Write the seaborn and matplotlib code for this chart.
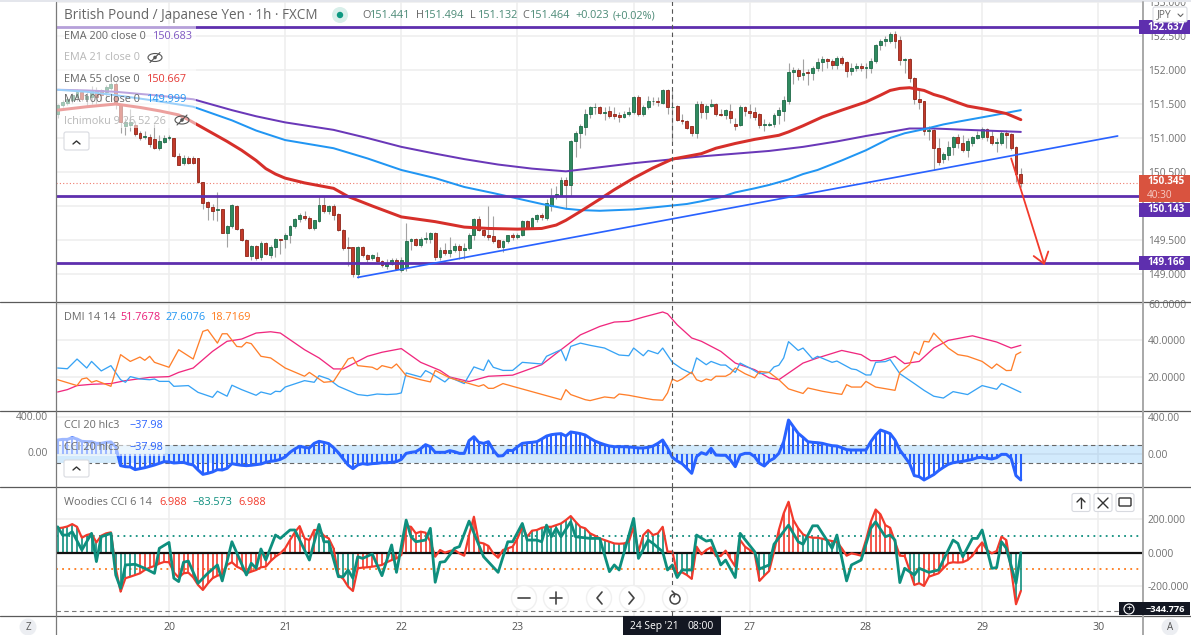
import numpy as np
import seaborn as sns
import matplotlib
matplotlib.use("Agg")
import matplotlib.pyplot as plt
from matplotlib.patches import Rectangle, FancyBboxPatch, Circle, Ellipse

# candles, one per hour, bar -23 .. 176 (bar 0 = 20 Sep 00:00, weekend removed)
candle_open = [
    151.36,151.49,151.51,151.56,151.6,151.68,151.58,151.6,151.71,151.7,
    151.68,151.74,151.8,151.48,151.18,151.19,151.19,151.08,151.01,151.02,
    150.98,150.85,150.94,151.0,151.0,150.74,150.63,150.71,150.7,150.7,
    150.35,150.06,149.99,149.94,149.95,149.6,149.7,150.0,149.66,149.5,
    149.26,149.41,149.25,149.46,149.28,149.39,149.51,149.51,149.57,149.7,
    149.81,149.86,149.83,149.67,149.78,150.02,149.92,150.0,149.88,149.65,
    149.39,149.39,149.0,149.39,149.28,149.24,149.25,149.19,149.12,149.15,
    149.21,149.06,149.1,149.48,149.51,149.43,149.52,149.51,149.6,149.25,
    149.36,149.31,149.35,149.41,149.35,149.38,149.57,149.81,149.65,149.58,
    149.56,149.5,149.4,149.49,149.57,149.55,149.58,149.78,149.68,149.81,
    149.87,149.83,150.0,150.14,150.16,150.38,150.31,150.96,151.07,151.16,
    151.35,151.45,151.45,151.37,151.4,151.36,151.34,151.31,151.36,151.39,
    151.61,151.35,151.46,151.54,151.55,151.52,151.7,151.45,151.47,151.27,
    151.25,151.17,151.08,151.5,151.38,151.47,151.5,151.36,151.34,151.4,
    151.21,151.19,151.45,151.4,151.38,151.35,151.19,151.19,151.2,151.34,
    151.4,151.55,151.97,152.0,151.92,151.97,151.95,152.03,152.12,152.16,
    152.13,152.07,152.18,152.12,151.99,152.03,152.06,152.03,152.03,152.13,
    152.37,152.43,152.43,152.53,152.44,152.15,152.16,151.88,151.58,151.54,
    151.11,151.12,150.86,150.69,150.75,150.87,151.02,150.92,150.82,150.93,
    151.0,151.02,151.13,151.03,150.93,150.93,151.08,151.06,150.87,150.47]
candle_high = [
    151.5,151.56,151.6,151.66,151.72,151.7,151.68,151.76,151.75,151.72,
    151.78,151.83,151.83,151.5,151.3,151.42,151.25,151.1,151.1,151.06,
    151.2,151.05,151.05,151.05,151.0,150.78,150.75,150.73,150.73,150.71,
    150.36,150.08,150.03,150.2,149.96,149.72,150.03,150.02,149.67,149.52,
    149.42,149.43,149.48,149.47,149.42,149.53,149.52,149.6,149.72,149.82,
    149.89,149.92,149.85,149.8,150.13,150.13,150.02,150.03,149.89,149.66,
    149.55,149.4,149.41,149.41,149.3,149.3,149.33,149.2,149.22,149.23,
    149.23,149.25,149.75,149.53,149.53,149.54,149.62,149.62,149.62,149.4,
    149.45,149.55,149.45,149.44,149.45,149.6,149.83,149.85,149.66,150.0,
    149.85,149.52,149.5,149.58,149.6,149.6,149.8,149.8,149.84,149.88,
    149.9,150.1,150.26,150.29,150.42,150.42,150.97,151.1,151.2,151.42,
    151.47,151.52,151.47,151.45,151.47,151.45,151.38,151.4,151.46,151.62,
    151.63,151.48,151.62,151.6,151.6,151.72,151.72,151.7,151.48,151.35,
    151.27,151.18,151.55,151.54,151.5,151.58,151.52,151.42,151.43,151.5,
    151.3,151.48,151.47,151.5,151.45,151.37,151.28,151.24,151.37,151.45,
    151.62,152.1,152.05,152.03,152.16,152.02,152.06,152.18,152.2,152.18,
    152.16,152.2,152.2,152.13,152.1,152.1,152.1,152.1,152.17,152.38,
    152.46,152.5,152.56,152.57,152.5,152.18,152.17,151.9,151.72,151.55,
    151.18,151.14,151.0,150.8,150.95,151.03,151.06,151.05,151.0,151.03,
    151.1,151.16,151.15,151.12,151.0,151.1,151.12,151.08,150.88,150.56]
candle_low = [
    151.3,151.46,151.48,151.52,151.55,151.55,151.45,151.5,151.5,151.55,
    151.6,151.7,151.42,151.07,151.05,151.1,151.03,150.97,150.98,150.87,
    150.84,150.82,150.93,150.97,150.72,150.6,150.6,150.62,150.62,150.34,
    149.95,149.8,149.8,149.78,149.6,149.4,149.68,149.65,149.48,149.26,
    149.2,149.2,149.2,149.28,149.23,149.25,149.3,149.38,149.46,149.68,
    149.77,149.8,149.66,149.65,149.76,149.9,149.88,149.8,149.63,149.36,
    149.12,148.96,148.94,149.25,149.17,149.2,149.17,149.1,149.08,149.13,
    149.06,149.03,149.05,149.35,149.41,149.4,149.45,149.46,149.2,149.2,
    149.28,149.25,149.32,149.22,149.22,149.36,149.5,149.63,149.55,149.5,
    149.45,149.38,149.33,149.45,149.5,149.52,149.56,149.66,149.66,149.77,
    149.8,149.8,149.93,150.1,150.14,149.96,150.15,150.72,150.85,151.05,
    151.3,151.36,151.35,151.27,151.3,151.28,151.23,151.29,151.33,151.35,
    151.33,151.33,151.42,151.48,151.47,151.5,151.35,150.95,151.25,151.2,
    151.13,151.03,151.0,151.3,151.28,151.45,151.33,151.32,151.28,151.22,
    151.12,151.17,151.33,151.3,151.27,151.15,151.1,151.17,151.16,151.2,
    151.25,151.5,151.8,151.85,151.85,151.78,151.85,151.98,151.98,152.03,
    152.02,152.02,152.07,151.9,151.92,151.98,151.98,151.88,151.95,152.1,
    152.3,152.35,152.4,152.33,152.08,151.95,151.83,151.5,151.43,151.04,
    150.97,150.53,150.6,150.63,150.68,150.75,150.85,150.8,150.72,150.88,
    150.98,150.98,150.95,150.9,150.8,150.9,150.85,150.83,150.35,150.28]
candle_close = [
    151.49,151.53,151.58,151.63,151.68,151.58,151.62,151.7,151.6,151.63,
    151.75,151.8,151.5,151.24,151.24,151.24,151.06,151.0,151.03,150.91,
    150.85,150.95,151.0,151.01,150.73,150.61,150.71,150.64,150.64,150.35,
    150.05,149.99,149.93,149.95,149.6,149.7,150.02,149.66,149.5,149.27,
    149.41,149.24,149.46,149.29,149.4,149.51,149.5,149.58,149.71,149.81,
    149.87,149.82,149.68,149.79,150.02,149.92,150.0,149.87,149.64,149.38,
    149.38,149.0,149.39,149.28,149.22,149.28,149.19,149.13,149.15,149.21,
    149.07,149.2,149.48,149.51,149.43,149.52,149.53,149.6,149.25,149.36,
    149.31,149.36,149.41,149.36,149.38,149.57,149.81,149.65,149.58,149.55,
    149.49,149.4,149.49,149.57,149.55,149.58,149.78,149.68,149.82,149.87,
    149.84,150.05,150.15,150.17,150.38,150.31,150.95,151.08,151.17,151.36,
    151.45,151.46,151.37,151.39,151.33,151.33,151.31,151.36,151.39,151.61,
    151.35,151.46,151.54,151.55,151.53,151.7,151.45,151.46,151.26,151.25,
    151.15,151.08,151.5,151.38,151.47,151.5,151.35,151.34,151.41,151.3,
    151.18,151.46,151.4,151.37,151.31,151.19,151.2,151.2,151.34,151.41,
    151.56,151.97,152.0,151.91,151.96,151.95,152.03,152.12,152.16,152.13,
    152.07,152.17,152.11,151.99,152.03,152.06,152.03,152.05,152.14,152.37,
    152.43,152.45,152.53,152.43,152.15,152.16,151.88,151.58,151.53,151.11,
    151.12,150.86,150.65,150.76,150.87,151.02,150.92,150.83,150.95,151.01,
    151.04,151.13,151.02,150.92,150.94,151.08,151.05,150.86,150.47,150.345]

# moving averages
ema200_bar = [-23,-17,-11,-3,5,9,13,18,24,29,34,41,48,55,61,68,75,82,89,96,103,110,117,124,131,138,144,149,153,158,165,176]
ema200_val = [151.71,151.7,151.68,151.63,151.57,151.49,151.41,151.32,151.23,151.175,151.12,151.0,150.87,150.77,150.69,150.61,150.55,150.51,150.57,150.63,150.68,150.73,150.77,150.81,150.87,150.95,151.03,151.09,151.14,151.14,151.12,151.09]
ma100_bar = [-23,-17,-11,-3,5,9,13,18,24,29,34,41,48,55,61,67,72,77,82,85,89,96,103,107,110,114,117,121,124,128,131,134,139,144,149,152,156,160,163,170,176]
ma100_val = [151.71,151.68,151.63,151.55,151.46,151.36,151.26,151.11,150.97,150.91,150.85,150.7,150.53,150.41,150.28,150.19,150.11,150.03,149.96,149.94,149.93,149.95,150.0,150.03,150.07,150.13,150.2,150.26,150.31,150.39,150.47,150.53,150.67,150.82,151.0,151.07,151.13,151.2,151.24,151.33,151.41]
ema55_bar = [-23,-17,-11,-6,-2,2,4,6,9,12,15,18,20,22,24,28,34,37,42,48,52,55,58,61,66,72,77,80,82,85,89,92,96,100,104,107,110,113,117,121,126,128,131,135,139,144,147,149,151,153,156,158,160,163,165,169,173,175,176]
ema55_val = [151.41,151.46,151.5,151.45,151.4,151.34,151.27,151.19,151.07,150.95,150.82,150.67,150.55,150.47,150.41,150.34,150.26,150.14,150.0,149.84,149.8,149.77,149.73,149.69,149.67,149.66,149.67,149.72,149.79,149.92,150.1,150.24,150.41,150.56,150.69,150.73,150.77,150.85,150.92,150.98,151.04,151.09,151.18,151.31,151.41,151.53,151.63,151.7,151.73,151.74,151.7,151.64,151.6,151.52,151.47,151.42,151.36,151.3,151.27]

trend_bar = [39, 196]
trend_val = [148.95, 151.03]
levels = [152.637, 150.143, 149.166]
last_price = 150.345
arrow_bar = [174, 180.9]
arrow_val = [150.7, 149.13]

# DMI
adx_bar = [-23,-21,-19,-16,-12,-9,-4,0,2,5,9,12,15,18,21,23,28,31,34,36,41,44,48,52,56,58,62,66,71,77,81,85,89,92,95,98,102,103,105,108,110,114,117,121,124,126,131,134,139,143,145,147,150,152,155,158,161,166,171,174,176]
adx_val = [11.8,13.1,15.3,16,16.4,18,19.8,20.2,22.5,24.9,34,39.5,40.7,44,44.7,44,34.9,30.4,24.4,24.4,31.3,33.5,35.5,28,23.6,20,17.5,20.4,21,26.7,34.9,43,47.6,50,50.4,52.7,55.5,54.5,48.5,41.3,39.5,34,27.6,24,19.5,18.5,27.6,30.4,34.5,32.2,28.9,28.9,31.3,27.3,28.5,35.8,40,42.5,39.1,35.8,37.3]
dip_bar = [-23,-21,-19,-17,-16,-14,-12,-10,-9,-8,-6,-4,-3,-2,0,1,4,6,9,10,12,13,15,18,19,21,22,23,24,28,30,31,33,35,39,41,43,45,47,48,49,52,53,54,57,58,61,63,65,66,67,69,71,73,77,78,81,82,83,85,87,90,91,93,95,96,98,99,101,102,104,106,108,109,111,112,114,115,117,118,120,122,124,125,126,127,128,130,131,133,134,137,138,141,142,144,145,146,148,149,151,154,156,158,160,162,165,168,171,172,173,176]
dip_val = [24.9,24.5,29.8,24.9,28.5,23.3,26.2,18.5,17.1,20.2,18.9,18.5,18.9,17.6,17.6,14.9,15.3,11.6,8.9,12.2,9.5,15.5,13.1,10,11.8,10.5,12.2,12,14.5,18,17.1,20.7,18.9,14.9,10.4,9.8,10.7,10.4,10.7,11.3,22.2,20,23.5,22.2,17.3,19.8,16.4,25.5,23.6,29.3,25.3,23.6,23.6,28,27.1,31.3,34.9,28.9,36.7,38.5,37.3,35.8,34.5,32,31.6,35.8,31.6,34.5,32.7,35.8,28,24.4,21.8,30.4,26.7,28.5,26.5,26.5,22.5,27.6,24.9,21.8,22.5,25.5,26.4,30.4,39.3,34.5,35.8,29.8,31.3,28,28.7,24.4,24,21.1,21.1,28,28.4,29.5,21.8,16.4,12.7,9.5,8.5,12,10.4,15.3,13.3,16.4,15.3,11.6]
dim_bar = [-23,-19,-18,-17,-16,-15,-12,-10,-8,-6,-5,-4,-3,0,2,5,7,8,10,11,12,14,15,16,17,19,21,24,28,29,32,34,37,38,39,42,43,44,46,47,48,49,52,54,55,58,64,65,66,67,69,71,81,82,83,86,87,90,92,93,95,98,100,102,103,104,105,106,108,109,110,111,112,113,115,116,117,119,121,122,124,126,128,131,132,135,137,139,140,141,143,144,146,150,151,153,154,155,156,157,158,161,163,165,168,170,171,173,174,175,176]
dim_val = [18.5,15.3,18.9,19.5,17.1,18,14.9,32.2,28.5,30.9,29.1,31.3,28,25.3,34.9,29.8,44.9,45.8,38.5,43.6,43.6,36.7,36.4,38.9,38.2,31.3,30.4,24.9,20.4,22.5,17.1,17.6,29.8,30.7,26.2,25.3,24,26.2,24.9,27.1,24,20.7,18.5,17.3,23.6,19.5,14.9,15.8,13.8,13.8,16.4,14.9,7.6,13.1,10.4,7.6,7.1,9.1,8.5,10.7,10,8.5,7.6,7.3,11.3,18.9,17.6,18.9,22.7,18.5,17.5,18.9,18.2,20.4,20.4,21.8,24.9,21.8,19.5,23.1,22.5,18.5,13.5,11,14,12.2,11.3,10.5,15.8,14.5,14.5,17.6,14.5,12.7,22.5,26.7,33.8,32.2,39.5,39.1,44,35.8,32.2,31.3,28.5,24.7,27.1,23.5,23.6,32.2,33.6]

# CCI 20, one per bar
cci_val = [
    151,158,158,176,162,137,133,133,115,115,
    126,130,79,-126,-137,-140,-169,-158,-148,-133,
    -119,-101,-83,-86,-97,-94,-90,-108,-119,-173,
    -220,-209,-194,-169,-173,-155,-104,-115,-122,-126,
    -122,-115,-108,-90,-79,-72,-58,-32,18,54,
    83,72,65,115,137,126,112,68,14,-54,
    -119,-158,-119,-104,-112,-104,-101,-94,-94,-90,
    -83,-58,7,18,25,58,101,79,18,18,
    18,36,25,7,7,144,187,126,115,133,
    43,-22,-18,40,36,79,115,122,126,133,
    162,194,209,216,220,194,238,230,220,205,
    170,140,119,101,86,79,79,79,76,72,
    65,65,72,86,115,151,65,-36,-76,-104,
    -155,-209,-29,14,-4,61,-11,-14,-14,-65,
    -137,-11,7,7,-29,-101,-130,-76,-47,7,
    133,367,295,223,180,133,126,122,115,101,
    90,86,68,47,43,43,43,43,133,205,
    259,241,220,151,43,-29,-101,-234,-245,-281,
    -252,-223,-180,-144,-112,-94,-86,-79,-68,-58,
    -40,-36,-47,-54,-40,-4,-4,-47,-234,-281]

# Woodies CCI, one per bar, and the turbo line read at its bends
wcci_val = [
    145,149,156,170,154,89,105,113,61,101,
    115,121,-93,-232,-152,-143,-133,-123,-103,-89,
    -79,-65,-55,-57,-117,-148,-123,-119,-147,-192,
    -222,-184,-152,-137,-129,-73,-57,-83,-97,-123,
    -113,-103,-87,-83,-50,-24,-4,26,75,121,
    158,85,75,135,135,101,85,26,-133,-156,
    -202,-228,-93,-89,-87,-83,-79,-73,-57,-44,
    -34,-14,158,154,115,125,119,65,-24,16,
    0,10,16,-4,-18,105,214,61,55,40,
    -4,-30,16,26,36,85,154,95,131,135,
    148,154,154,164,174,194,218,184,154,145,
    115,101,85,75,65,55,53,55,65,154,
    6,105,135,105,115,154,6,6,-123,-117,
    -133,-156,36,-10,16,32,-20,-20,12,-38,
    -83,75,36,16,-4,-168,-137,-109,6,135,
    234,303,194,145,109,95,89,89,83,75,
    69,65,26,-18,-4,-10,-18,75,184,257,
    228,164,148,65,-18,-20,-103,-192,-182,-198,
    -143,-133,-123,-93,-63,-57,-59,-57,-44,-18,
    26,61,16,-4,10,95,75,-103,-307,-228]
wcci_teal_runs = [(-23,-7),(31,34),(35,38),(73,108),(122,124),(131,138),(153,155),(174,176)]
tci_bar = [-23,-22,-21,-20,-18,-16,-15,-14,-12,-11,-10,-9,-7,-5,-3,-2,0,1,2,3,4,6,8,10,11,13,16,17,18,19,20,22,23,25,26,29,31,32,33,35,36,37,38,39,40,42,44,46,47,49,50,51,53,54,55,56,57,59,60,62,64,65,68,70,71,73,74,76,77,78,79,80,81,83,84,87,89,91,92,93,96,97,99,100,102,103,104,105,106,108,109,111,112,114,115,117,118,121,122,124,125,128,130,131,133,134,137,138,140,141,143,145,146,148,149,150,151,152,154,155,157,159,162,163,164,166,167,168,170,171,172,173,175,176]
tci_val = [154,105,105,125,16,115,-53,95,115,-133,-212,-73,-69,-93,-123,26,61,-152,-172,-57,-50,-182,-123,-73,-168,65,-133,-63,-93,22,-44,105,85,135,135,-44,168,65,65,-143,-143,-103,-152,-24,-34,-8,-137,46,-117,194,95,65,75,145,-176,-57,-53,26,36,188,46,-24,-117,65,65,174,75,75,65,164,95,145,95,184,95,85,85,-113,-73,-103,204,-34,75,55,6,-103,-73,-148,-103,-103,105,69,75,-73,-44,-148,115,6,-97,-73,50,164,65,50,160,160,26,105,-168,-73,-44,145,184,95,105,75,-178,-93,-133,-93,-117,-103,75,55,-24,85,85,135,-93,-89,65,26,-182,0]

price_ticks = [149.0,149.5,150.0,150.5,151.0,151.5,152.0,152.5,153.0]
dmi_ticks = [20,40,60]
cci_ticks = [0,400]
wcci_ticks = [-200,0,200]
day_bars = [0,24,48,72,96,120,144,168,192]
day_labels = ["20","21","22","23","","27","28","29","30"]
cross_bar = 104

W, H = 1191, 635
FONT = "Open Sans"
PURPLE = "#5e2fae"
TEAL = "#0e8f7e"
RED = "#f23a2c"
BLUE = "#2962ff"
TXT = "#6b6b6b"
SIZE = 7.8
AXIS_SIZE = 7.4

sns.set_theme(style="white", rc={"font.family": FONT, "axes.edgecolor": "white"})
fig = plt.figure(figsize=(W / 100, H / 100), dpi=100, facecolor="white")

X_LEFT, X_RIGHT = 56, 1143
def bar_of(xp):
    return (xp - 169) / 4.84

def pane(top, bottom, ymax, ymin, ticks, fmt):
    ax = fig.add_axes([X_LEFT / W, 1 - bottom / H, (X_RIGHT - X_LEFT) / W, (bottom - top) / H])
    ax.set_xlim(bar_of(X_LEFT), bar_of(X_RIGHT))
    ax.set_ylim(ymin, ymax)
    ax.set_xticks(day_bars)
    ax.set_xticklabels([])
    ax.set_yticks(ticks)
    ax.set_yticklabels([fmt % t for t in ticks], color="#707070", fontsize=AXIS_SIZE)
    ax.yaxis.tick_right()
    ax.tick_params(axis="both", length=0, pad=3.6)
    ax.grid(True, color="#eeeeee", lw=1.1)
    ax.set_axisbelow(True)
    for s in ax.spines.values():
        s.set_visible(False)
    return ax

ax1 = pane(0, 301, 153.03, 148.603, price_ticks, "%.3f")
ax2 = pane(301, 411, 61.5, 1.42, dmi_ticks, "%.4f")
ax3 = pane(411, 487, 464.9, -356.8, cci_ticks, "%.2f")
ax4 = pane(487, 615.5, 391, -374, wcci_ticks, "%.3f")

def line(ax, x, y, color, w, z=3):
    sns.lineplot(x=x, y=y, ax=ax, color=color, linewidth=w * 0.72, estimator=None,
                 sort=False, legend=False, zorder=z)

bars = np.arange(-23, 177)
o = np.array(candle_open)
h = np.array(candle_high)
l = np.array(candle_low)
c = np.array(candle_close)
up = c >= o
ax1.vlines(bars, l, h, color="#a3a3a3", lw=0.8, zorder=2)
ax1.bar(bars[up], (c - o)[up], bottom=o[up], width=0.6, color="#2f8a5f", edgecolor="#1f6a48", lw=0.6, zorder=2.5)
ax1.bar(bars[~up], (o - c)[~up], bottom=c[~up], width=0.6, color="#c23a2a", edgecolor="#8f2418", lw=0.6, zorder=2.5)

ax1.hlines(last_price, bar_of(X_LEFT), bar_of(X_RIGHT), color="#ef7a6c", lw=0.8, linestyles=(0, (1, 2)), zorder=2)
for lev in levels:
    ax1.axhline(lev, color=PURPLE, lw=2, zorder=4)
line(ax1, trend_bar, trend_val, BLUE, 1.7, 4)
line(ax1, ema200_bar, ema200_val, "#6a38b8", 2, 3)
line(ax1, ma100_bar, ma100_val, "#2196f3", 2, 3)
line(ax1, ema55_bar, ema55_val, "#d62f2a", 3, 3)
ax1.annotate("", xy=(arrow_bar[1], arrow_val[1]), xytext=(arrow_bar[0], arrow_val[0]), zorder=5,
             arrowprops=dict(arrowstyle="->,head_length=0.75,head_width=0.55", color=RED, lw=1.3,
                             mutation_scale=10, shrinkA=0, shrinkB=0))

line(ax2, adx_bar, adx_val, "#f0287f", 1.3)
line(ax2, dip_bar, dip_val, "#37a3f5", 1.3)
line(ax2, dim_bar, dim_val, "#ff7f2a", 1.3)

ax3.axhspan(-100, 100, color="#2196f3", alpha=0.2, lw=0, zorder=1)
ax3.axhline(100, color="#666666", lw=0.8, ls=(0, (4, 3)), zorder=2)
ax3.axhline(-100, color="#666666", lw=0.8, ls=(0, (4, 3)), zorder=2)
ax3.vlines(bars, 0, cci_val, color=BLUE, lw=1.5, zorder=3)
line(ax3, bars, cci_val, BLUE, 3, 4)

ax4.axhline(0, color="#111111", lw=1.6, zorder=3)
ax4.axhline(100, color=TEAL, lw=1.3, ls=(0, (1, 2.4)), zorder=2)
ax4.axhline(-100, color="#ff7a1a", lw=1.3, ls=(0, (1, 2.4)), zorder=2)
ax4.axhline(-344.776, color="#777777", lw=0.8, ls=(0, (4, 3)), zorder=2)
teal_mask = np.zeros(len(bars), dtype=bool)
for a, b in wcci_teal_runs:
    teal_mask |= (bars >= a) & (bars <= b)
ax4.vlines(bars, 0, wcci_val, colors=np.where(teal_mask, TEAL, RED), lw=1.2, zorder=2.5)
line(ax4, bars, wcci_val, RED, 2.2, 4)
line(ax4, tci_bar, tci_val, TEAL, 2.8, 5)

for ax in (ax1, ax2, ax3, ax4):
    ax.axvline(cross_bar, color="#555555", lw=0.8, ls=(0, (4, 3)), zorder=6)

# chrome drawn in pixel coordinates on top
ov = fig.add_axes([0, 0, 1, 1], facecolor="none")
ov.set_xlim(0, W)
ov.set_ylim(H, 0)
ov.axis("off")

def txt(x, y, s, color=TXT, size=SIZE, weight="normal", ha="left"):
    ov.text(x, y, s, color=color, fontsize=size, fontweight=weight, ha=ha, va="center", zorder=7)

def box(x0, y0, x1, y1, fc="white", ec="none", alpha=1.0, z=1):
    ov.add_patch(Rectangle((x0, y0), x1 - x0, y1 - y0, fc=fc, ec=ec, alpha=alpha, lw=0, zorder=z))

def button(x0, y0, x1, y1):
    ov.add_patch(FancyBboxPatch((x0 + 2, y0 + 2), x1 - x0 - 4, y1 - y0 - 4, boxstyle="round,pad=2",
                                fc="white", ec="#d8dae0", lw=0.8, zorder=3))

def eye(x, y):
    ov.add_patch(Ellipse((x, y), 14, 8, fc="none", ec="#555555", lw=0.8, zorder=4))
    ov.plot([x - 5, x + 5], [y + 5, y - 5], color="#555555", lw=0.8, zorder=4)
    ov.add_patch(Circle((x, y), 1.8, fc="#555555", ec="none", zorder=4))

# fading behind the legends
box(57, 24, 196, 128, alpha=0.55)
box(57, 437, 165, 456, alpha=0.55)

# separators
box(0, 0, W, 2, fc="#e4e6ec")
for yy in (301.5, 411, 487, 615.5):
    ov.plot([0, W], [yy, yy], color="#5a5a5a", lw=0.9, zorder=2)
ov.plot([X_LEFT, X_LEFT], [2, H], color="#7a7a7a", lw=0.9, zorder=2)
ov.plot([X_RIGHT, X_RIGHT], [2, H], color="#a8a8a8", lw=1.4, zorder=2)

# title row
txt(64, 15.5, "British Pound / Japanese Yen · 1h · FXCM", "#666666", 9.75)
ov.add_patch(Circle((340, 15), 8, fc="#d8efea", ec="none", zorder=2))
ov.add_patch(Circle((340, 15), 3.2, fc="#0e9981", ec="none", zorder=3))
ohlc = [(362, "O", "151.441"), (416, "H", "151.494"), (470, "L", "151.132"), (522, "C", "151.464")]
for x, k, v in ohlc:
    txt(x, 16, k, "#666666")
    txt(x + 8, 16, v, "#4b8a76")
txt(575, 16, "+0.023", "#4b8a76")
txt(613, 16, "(+0.02%)", "#4b8a76")

# legends
txt(64, 36.5, "EMA 200 close 0", "#666666")
txt(153, 36.5, "150.683", "#7e57c2")
txt(64, 58, "EMA 21 close 0", "#b8b8b8")
eye(155, 57.5)
txt(64, 79, "EMA 55 close 0", "#666666")
txt(147, 79, "150.667", "#e53935")
txt(64, 100, "MA 100 close 0", "#666666")
txt(147, 100, "149.999", "#2196f3")
txt(64, 121, "Ichimoku 9 26 52 26", "#b8b8b8")
eye(182, 120)
button(64, 132, 89, 150)
ov.plot([73, 76.5, 80], [144, 141, 144], color="#333333", lw=1, zorder=4)

txt(64, 317, "DMI 14 14")
txt(120.5, 317, "51.7678", "#e91e78")
txt(166, 317, "27.6076", "#2196f3")
txt(211, 317, "18.7169", "#ff7a1a")

txt(16, 417, "400.00", "#707070", AXIS_SIZE)
txt(27, 454, "0.00", "#707070", AXIS_SIZE)
txt(64, 426, "CCI 20 hlc3")
txt(129, 426, "−37.98", BLUE)
txt(64, 447, "CCI 20 hlc3")
txt(129, 447, "−37.98", BLUE)
button(64, 460, 89, 477)
ov.plot([73, 76.5, 80], [470, 467, 470], color="#333333", lw=1, zorder=4)

txt(64, 502.5, "Woodies CCI 6 14")
txt(159, 502.5, "6.988", RED)
txt(192.5, 502.5, "−83.573", TEAL)
txt(238, 502.5, "6.988", RED)

# price tags
box(1139, 20, 1190, 34, fc=PURPLE, z=3)
txt(1147, 27, "152.637", "white", 7.2, "bold")
box(1139, 175, 1190, 202, fc="#d9533f", z=3)
txt(1147, 182, "150.345", "white", 7.2, "bold")
txt(1147, 195, "40:30", "#f6cdc6", 7.2)
box(1139, 203, 1190, 217, fc=PURPLE, z=3)
txt(1147, 209.5, "150.143", "white", 7.2, "bold")
box(1139, 256, 1190, 270, fc=PURPLE, z=3)
txt(1147, 262.5, "149.166", "white", 7.2, "bold")
box(1139, 602, 1190, 615, fc="#131722", z=3)
txt(1146, 609, "−344.776", "white", 6.7, "bold")
box(1119, 602, 1139, 615, fc="#131722", z=3)
ov.add_patch(Circle((1129, 609), 5, fc="none", ec="white", lw=0.8, zorder=4))
txt(1129, 608.6, "+", "white", 6.5, ha="center")
button(1153, 7, 1187, 22)
txt(1157, 15, "JPY", "#666666", 7.4)
ov.plot([1178, 1180.5, 1183], [14, 16.5, 14], color="#666666", lw=0.8, zorder=4)

# bottom axis
for b, s in zip(day_bars, day_labels):
    txt(169 + 4.84 * b, 627, s, "#555555", AXIS_SIZE + 0.3, ha="center")
box(623, 616, 721, 635, fc="#131722", z=3)
txt(630, 626.5, "24 Sep '21", "white", 7.4)
txt(687, 626.5, "08:00", "white", 7.4)
ov.add_patch(Circle((28, 627), 8.5, fc="#eceef2", ec="none", zorder=3))
txt(28, 627, "Z", "#555555", 7, ha="center")
ov.add_patch(Circle((1170, 627), 8.5, fc="#eceef2", ec="none", zorder=3))
txt(1170, 627, "A", "#555555", 7, ha="center")

# navigation buttons
for x in (524, 556, 599, 632, 675):
    ov.add_patch(Circle((x, 598), 12.5, fc="white", ec="#f0f0f0", lw=1, zorder=5))
ov.plot([518, 530], [598, 598], color="#444444", lw=1.2, zorder=6)
ov.plot([550, 562], [598, 598], color="#444444", lw=1.2, zorder=6)
ov.plot([556, 556], [592, 604], color="#444444", lw=1.2, zorder=6)
ov.plot([602, 597, 602], [592, 598, 604], color="#444444", lw=1.2, zorder=6)
ov.plot([629, 634, 629], [592, 598, 604], color="#444444", lw=1.2, zorder=6)
ov.add_patch(Circle((675, 599), 5, fc="none", ec="#444444", lw=1.1, zorder=6))
ov.plot([672, 675, 674], [591, 594, 597], color="#444444", lw=1.1, zorder=6)

for x in (1081, 1103, 1125):
    button(x - 9, 493.5, x + 9, 511.5)
ov.plot([1081, 1081], [498, 508], color="#333333", lw=1, zorder=4)
ov.plot([1077, 1081, 1085], [502, 498, 502], color="#333333", lw=1, zorder=4)
ov.plot([1098, 1108], [498, 508], color="#333333", lw=1, zorder=4)
ov.plot([1098, 1108], [508, 498], color="#333333", lw=1, zorder=4)
ov.add_patch(FancyBboxPatch((1120, 499), 10, 6, boxstyle="round,pad=1", fc="white", ec="#333333", lw=1, zorder=4))

fig.savefig("out.png", dpi=100)
